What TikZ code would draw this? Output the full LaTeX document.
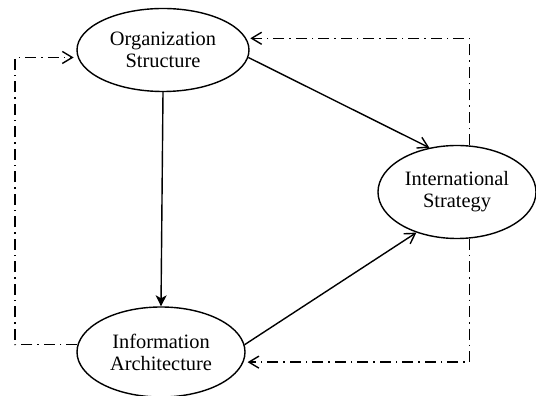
\documentclass[tikz,border=0pt]{standalone}
\usepackage{fontspec}
\setmainfont{Liberation Serif}
\usetikzlibrary{shapes.geometric,arrows.meta}

\begin{document}
\begin{tikzpicture}[x=0.5pt,y=0.5pt,line width=0.7pt,
  box/.style={draw,ellipse,inner sep=0pt,align=center,font=\fontsize{10.2}{11}\selectfont},
  fb/.style={dash pattern=on 5.5pt off 2.5pt on 0.75pt off 2.5pt,-{Straight Barb[length=5pt,width=6pt]},shorten >=2pt},
  ff/.style={-{Straight Barb[length=5pt,width=6pt]}}]
\useasboundingbox (0,0) rectangle (536,396);
\node[box,minimum width=86pt,minimum height=41.5pt] (org) at (163,346) {Organization\\ Structure};
\node[box,minimum width=84pt,minimum height=45pt] (info) at (161,44) {Information\\ Architecture};
\node[box,minimum width=79pt,minimum height=46.5pt] (strat) at (457,204) {International\\ Strategy};
\coordinate (lx) at (15,200);
\draw[-{Stealth[length=5.5pt,width=5.5pt,inset=1.5pt]}] (org.south) -- (info.north);
\draw[ff] (org.-5) -- (strat.122);
\draw[ff] (info.5) -- (strat.225);
\draw[fb] (info.175) -| (lx) |- (org.185);
\draw[fb] (strat.75) |- (org.8);
\draw[fb] (strat.-75) |- (info.-7);
\end{tikzpicture}
\end{document}
